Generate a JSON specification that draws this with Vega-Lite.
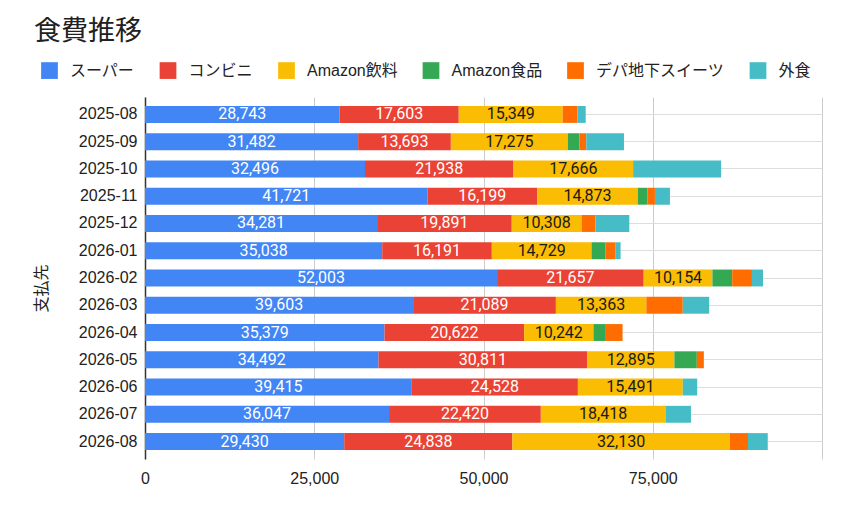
{
  "$schema": "https://vega.github.io/schema/vega-lite/v6.json",
  "autosize": "none",
  "width": 677,
  "height": 362,
  "padding": {"left": 145, "top": 97, "right": 37, "bottom": 48},
  "background": "white",
  "title": {
    "text": "食費推移",
    "anchor": "start",
    "frame": "group",
    "dx": -111,
    "fontSize": 27,
    "fontWeight": "normal",
    "font": "Noto Sans CJK JP",
    "color": "#212121",
    "offset": 16
  },
  "data": {
    "values": [
      {"month": "2025-08", "c": "スーパー", "v": 28743},
      {"month": "2025-08", "c": "コンビニ", "v": 17603},
      {"month": "2025-08", "c": "Amazon飲料", "v": 15349},
      {"month": "2025-08", "c": "デパ地下スイーツ", "v": 2200},
      {"month": "2025-08", "c": "外食", "v": 1200},
      {"month": "2025-09", "c": "スーパー", "v": 31482},
      {"month": "2025-09", "c": "コンビニ", "v": 13693},
      {"month": "2025-09", "c": "Amazon飲料", "v": 17275},
      {"month": "2025-09", "c": "Amazon食品", "v": 1730},
      {"month": "2025-09", "c": "デパ地下スイーツ", "v": 1000},
      {"month": "2025-09", "c": "外食", "v": 5570},
      {"month": "2025-10", "c": "スーパー", "v": 32496},
      {"month": "2025-10", "c": "コンビニ", "v": 21938},
      {"month": "2025-10", "c": "Amazon飲料", "v": 17666},
      {"month": "2025-10", "c": "外食", "v": 13000},
      {"month": "2025-11", "c": "スーパー", "v": 41721},
      {"month": "2025-11", "c": "コンビニ", "v": 16199},
      {"month": "2025-11", "c": "Amazon飲料", "v": 14873},
      {"month": "2025-11", "c": "Amazon食品", "v": 1440},
      {"month": "2025-11", "c": "デパ地下スイーツ", "v": 1090},
      {"month": "2025-11", "c": "外食", "v": 2220},
      {"month": "2025-12", "c": "スーパー", "v": 34281},
      {"month": "2025-12", "c": "コンビニ", "v": 19891},
      {"month": "2025-12", "c": "Amazon飲料", "v": 10308},
      {"month": "2025-12", "c": "デパ地下スイーツ", "v": 2070},
      {"month": "2025-12", "c": "外食", "v": 4990},
      {"month": "2026-01", "c": "スーパー", "v": 35038},
      {"month": "2026-01", "c": "コンビニ", "v": 16191},
      {"month": "2026-01", "c": "Amazon飲料", "v": 14729},
      {"month": "2026-01", "c": "Amazon食品", "v": 2020},
      {"month": "2026-01", "c": "デパ地下スイーツ", "v": 1480},
      {"month": "2026-01", "c": "外食", "v": 790},
      {"month": "2026-02", "c": "スーパー", "v": 52003},
      {"month": "2026-02", "c": "コンビニ", "v": 21657},
      {"month": "2026-02", "c": "Amazon飲料", "v": 10154},
      {"month": "2026-02", "c": "Amazon食品", "v": 2920},
      {"month": "2026-02", "c": "デパ地下スイーツ", "v": 2920},
      {"month": "2026-02", "c": "外食", "v": 1630},
      {"month": "2026-03", "c": "スーパー", "v": 39603},
      {"month": "2026-03", "c": "コンビニ", "v": 21089},
      {"month": "2026-03", "c": "Amazon飲料", "v": 13363},
      {"month": "2026-03", "c": "デパ地下スイーツ", "v": 5380},
      {"month": "2026-03", "c": "外食", "v": 3900},
      {"month": "2026-04", "c": "スーパー", "v": 35379},
      {"month": "2026-04", "c": "コンビニ", "v": 20622},
      {"month": "2026-04", "c": "Amazon飲料", "v": 10242},
      {"month": "2026-04", "c": "Amazon食品", "v": 1830},
      {"month": "2026-04", "c": "デパ地下スイーツ", "v": 2470},
      {"month": "2026-05", "c": "スーパー", "v": 34492},
      {"month": "2026-05", "c": "コンビニ", "v": 30811},
      {"month": "2026-05", "c": "Amazon飲料", "v": 12895},
      {"month": "2026-05", "c": "Amazon食品", "v": 3310},
      {"month": "2026-05", "c": "デパ地下スイーツ", "v": 1040},
      {"month": "2026-06", "c": "スーパー", "v": 39415},
      {"month": "2026-06", "c": "コンビニ", "v": 24528},
      {"month": "2026-06", "c": "Amazon飲料", "v": 15491},
      {"month": "2026-06", "c": "外食", "v": 2130},
      {"month": "2026-07", "c": "スーパー", "v": 36047},
      {"month": "2026-07", "c": "コンビニ", "v": 22420},
      {"month": "2026-07", "c": "Amazon飲料", "v": 18418},
      {"month": "2026-07", "c": "外食", "v": 3760},
      {"month": "2026-08", "c": "スーパー", "v": 29430},
      {"month": "2026-08", "c": "コンビニ", "v": 24838},
      {"month": "2026-08", "c": "Amazon飲料", "v": 32130},
      {"month": "2026-08", "c": "デパ地下スイーツ", "v": 2670},
      {"month": "2026-08", "c": "外食", "v": 2920}
    ]
  },
  "transform": [
    {"calculate": "indexof(['スーパー','コンビニ','Amazon飲料','Amazon食品','デパ地下スイーツ','外食'], datum.c)", "as": "o"}
  ],
  "encoding": {
    "y": {
      "field": "month",
      "type": "nominal",
      "title": "支払先",
      "scale": {"paddingInner": 0.38, "paddingOuter": 0.33},
      "axis": {
        "ticks": false,
        "domain": true,
        "domainColor": "#333333",
        "domainWidth": 1.5,
        "labelFontSize": 16,
        "labelFont": "Liberation Sans",
        "labelColor": "#222222",
        "labelPadding": 8,
        "titleFont": "Noto Sans CJK JP",
        "titleFontSize": 16,
        "titleFontWeight": "normal",
        "titleColor": "#222222",
        "titleX": -104,
        "titleY": 191,
        "titleBaseline": "middle",
        "titleAlign": "center"
      }
    }
  },
  "layer": [
    {
      "mark": {"type": "bar"},
      "encoding": {
        "x": {
          "field": "v",
          "type": "quantitative",
          "stack": "zero",
          "title": null,
          "scale": {"domain": [0, 100000], "nice": false},
          "axis": {
            "values": [0, 25000, 50000, 75000, 100000],
            "labelExpr": "datum.value == 100000 ? '' : datum.label",
            "format": ",d",
            "domain": false,
            "ticks": false,
            "labelFlush": false,
            "gridColor": "#cccccc",
            "labelFontSize": 16,
            "labelFont": "Liberation Sans",
            "labelColor": "#222222",
            "labelPadding": 11
          }
        },
        "order": {"field": "o", "type": "quantitative"},
        "color": {
          "field": "c",
          "type": "nominal",
          "sort": ["スーパー", "コンビニ", "Amazon飲料", "Amazon食品", "デパ地下スイーツ", "外食"],
          "scale": {
            "domain": ["スーパー", "コンビニ", "Amazon飲料", "Amazon食品", "デパ地下スイーツ", "外食"],
            "range": ["#4285F4", "#EA4335", "#FBBC04", "#34A853", "#FF6D01", "#46BDC6"]
          },
          "legend": {
            "title": null,
            "orient": "none",
            "direction": "horizontal",
            "legendX": -104,
            "legendY": -35,
            "symbolType": "square",
            "symbolSize": 280,
            "symbolStrokeWidth": 0,
            "symbolOpacity": 1,
            "labelFont": "Liberation Sans, Noto Sans CJK JP",
            "labelFontSize": 16,
            "labelColor": "#222222",
            "labelOffset": 12,
            "columnPadding": 24.5
          }
        }
      }
    },
    {
      "transform": [
        {"stack": "v", "groupby": ["month"], "sort": [{"field": "o"}], "as": ["s0", "s1"]},
        {"filter": "datum.o < 3"},
        {"calculate": "(datum.s0 + datum.s1) / 2", "as": "mid"}
      ],
      "mark": {"type": "text", "font": "Roboto", "fontSize": 16, "baseline": "middle"},
      "encoding": {
        "x": {"field": "mid", "type": "quantitative"},
        "text": {"field": "v", "type": "quantitative", "format": ",d"},
        "color": {
          "condition": {"test": "datum.c == 'Amazon飲料'", "value": "#1a1a1a"},
          "value": "#ffffff"
        }
      }
    }
  ],
  "config": {
    "view": {"stroke": null},
    "axis": {"grid": true}
  }
}
